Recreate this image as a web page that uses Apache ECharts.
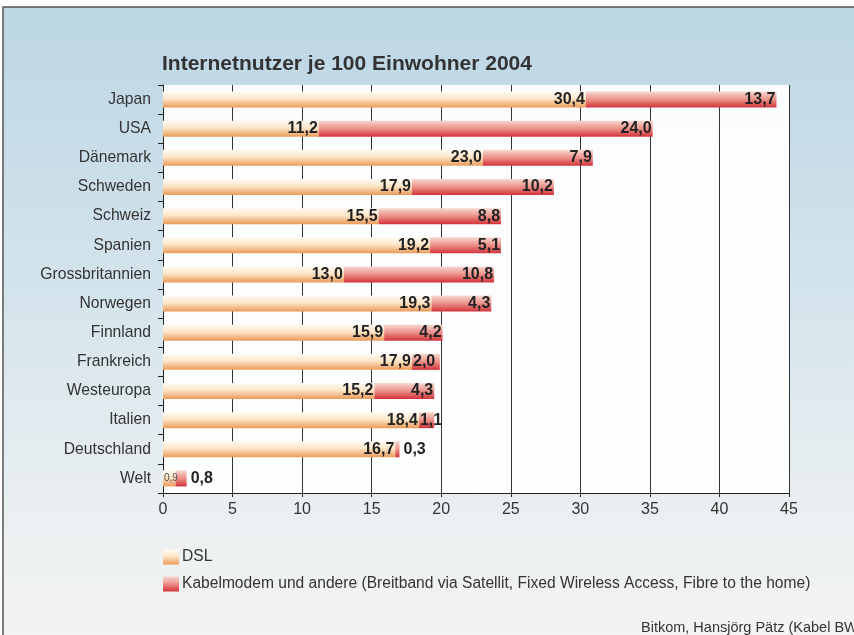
<!DOCTYPE html>
<html>
<head>
<meta charset="utf-8">
<script src="https://cdn.jsdelivr.net/npm/echarts@6/dist/echarts.min.js"></script>
<style>
  html, body { margin: 0; padding: 0; background: #fff; }
  #main { width: 854px; height: 635px; }
</style>
</head>
<body>
<div id="main"></div>
<script>
  // Laender von oben nach unten
  let laender = ['Japan', 'USA', 'Dänemark', 'Schweden', 'Schweiz', 'Spanien', 'Grossbritannien',
    'Norwegen', 'Finnland', 'Frankreich', 'Westeuropa', 'Italien', 'Deutschland', 'Welt'];
  let dsl = [30.4, 11.2, 23.0, 17.9, 15.5, 19.2, 13.0, 19.3, 15.9, 17.9, 15.2, 18.4, 16.7, 0.9];
  let kabel = [13.7, 24.0, 7.9, 10.2, 8.8, 5.1, 10.8, 4.3, 4.2, 2.0, 4.3, 1.1, 0.3, 0.8];
  let xTicks = [0, 5, 10, 15, 20, 25, 30, 35, 40, 45];

  let fmt = function (v) { return v.toFixed(1).replace('.', ','); };

  let chartDom = document.getElementById('main');
  let myChart = echarts.init(chartDom);
  let option;

  let dslColor = new echarts.graphic.LinearGradient(0, 0, 0, 1, [
    { offset: 0, color: '#fffaf2' },
    { offset: 0.45, color: '#fde6c8' },
    { offset: 1, color: '#eb9a58' }
  ]);
  let kabelColor = new echarts.graphic.LinearGradient(0, 0, 0, 1, [
    { offset: 0, color: '#f8d8d0' },
    { offset: 0.5, color: '#ec9088' },
    { offset: 1, color: '#d2323a' }
  ]);

  let valueLabel = {
    show: true,
    position: 'insideRight',
    distance: 1,
    fontFamily: 'Liberation Sans',
    fontWeight: 'bold',
    fontSize: 16,
    color: '#222'
  };

  let dslData = dsl.map(function (v, i) {
    if (laender[i] === 'Welt') {
      return { value: v, label: { position: 'insideLeft', distance: 1, fontSize: 10, fontWeight: 'normal', color: '#555' } };
    }
    return v;
  });
  let kabelData = kabel.map(function (v) {
    if (v < 1) {
      return { value: v, label: { position: 'right', distance: 4 } };
    }
    if (v < 2.5) {
      return { value: v, label: { position: 'insideLeft', distance: 1 } };
    }
    return v;
  });

  option = {
    backgroundColor: '#fff',
    animation: false,
    title: {
      text: 'Internetnutzer je 100 Einwohner 2004',
      left: 157,
      top: 49,
      textStyle: { fontFamily: 'Liberation Sans', fontWeight: 'bold', fontSize: 21, color: '#333' }
    },
    graphic: [
      {
        type: 'rect',
        z: -10,
        shape: { x: 3, y: 7, width: 851, height: 628 },
        style: {
          fill: new echarts.graphic.LinearGradient(0, 0, 0, 1, [
            { offset: 0, color: '#bcd6e4' },
            { offset: 0.45, color: '#d4e4ec' },
            { offset: 0.8, color: '#eaeff1' },
            { offset: 1, color: '#f3f4f2' }
          ])
        }
      },
      {
        type: 'polyline',
        z: 10,
        shape: { points: [[3, 635], [3, 7], [854, 7]] },
        style: { stroke: '#555', lineWidth: 1.5, fill: null }
      },
      {
        type: 'text',
        left: 641,
        top: 620,
        style: { text: 'Bitkom, Hansjörg Pätz (Kabel BW)', fontFamily: 'Liberation Sans', fontSize: 14.5, fill: '#333' }
      }
    ],
    legend: {
      orient: 'vertical',
      left: 158,
      top: 544,
      itemWidth: 16,
      itemHeight: 15,
      itemGap: 11,
      icon: 'rect',
      textStyle: { fontFamily: 'Liberation Sans', fontSize: 15.6, color: '#333', padding: [0, 0, 0, -2] },
      data: ['DSL', 'Kabelmodem und andere (Breitband via Satellit, Fixed Wireless Access, Fibre to the home)']
    },
    grid: {
      left: 163,
      right: 65,
      top: 85,
      bottom: 142,
      show: true,
      backgroundColor: 'rgba(255,255,255,0.92)',
      borderWidth: 0
    },
    xAxis: {
      type: 'value',
      min: xTicks[0],
      max: xTicks[xTicks.length - 1],
      interval: 5,
      axisLine: { show: true, lineStyle: { color: '#222', width: 1 } },
      axisTick: { show: true, length: 4, lineStyle: { color: '#222' } },
      axisLabel: { fontFamily: 'Liberation Sans', fontSize: 16, color: '#333', margin: 9 },
      splitLine: { show: true, lineStyle: { color: '#333', width: 1 } }
    },
    yAxis: {
      type: 'category',
      inverse: true,
      data: laender,
      axisLine: { show: true, lineStyle: { color: '#222', width: 1 } },
      axisTick: { show: true, length: 5, lineStyle: { color: '#222' } },
      axisLabel: { fontFamily: 'Liberation Sans', fontSize: 15.7, color: '#333', margin: 12 }
    },
    series: [
      {
        name: 'DSL',
        type: 'bar',
        stack: 'total',
        barWidth: 16,
        itemStyle: { color: dslColor },
        label: Object.assign({}, valueLabel, { formatter: function (p) { return fmt(p.value); } }),
        data: dslData
      },
      {
        name: 'Kabelmodem und andere (Breitband via Satellit, Fixed Wireless Access, Fibre to the home)',
        type: 'bar',
        stack: 'total',
        barWidth: 16,
        itemStyle: { color: kabelColor },
        label: Object.assign({}, valueLabel, { formatter: function (p) { return fmt(p.value); } }),
        data: kabelData
      }
    ]
  };

  option && myChart.setOption(option);
</script>
</body>
</html>
